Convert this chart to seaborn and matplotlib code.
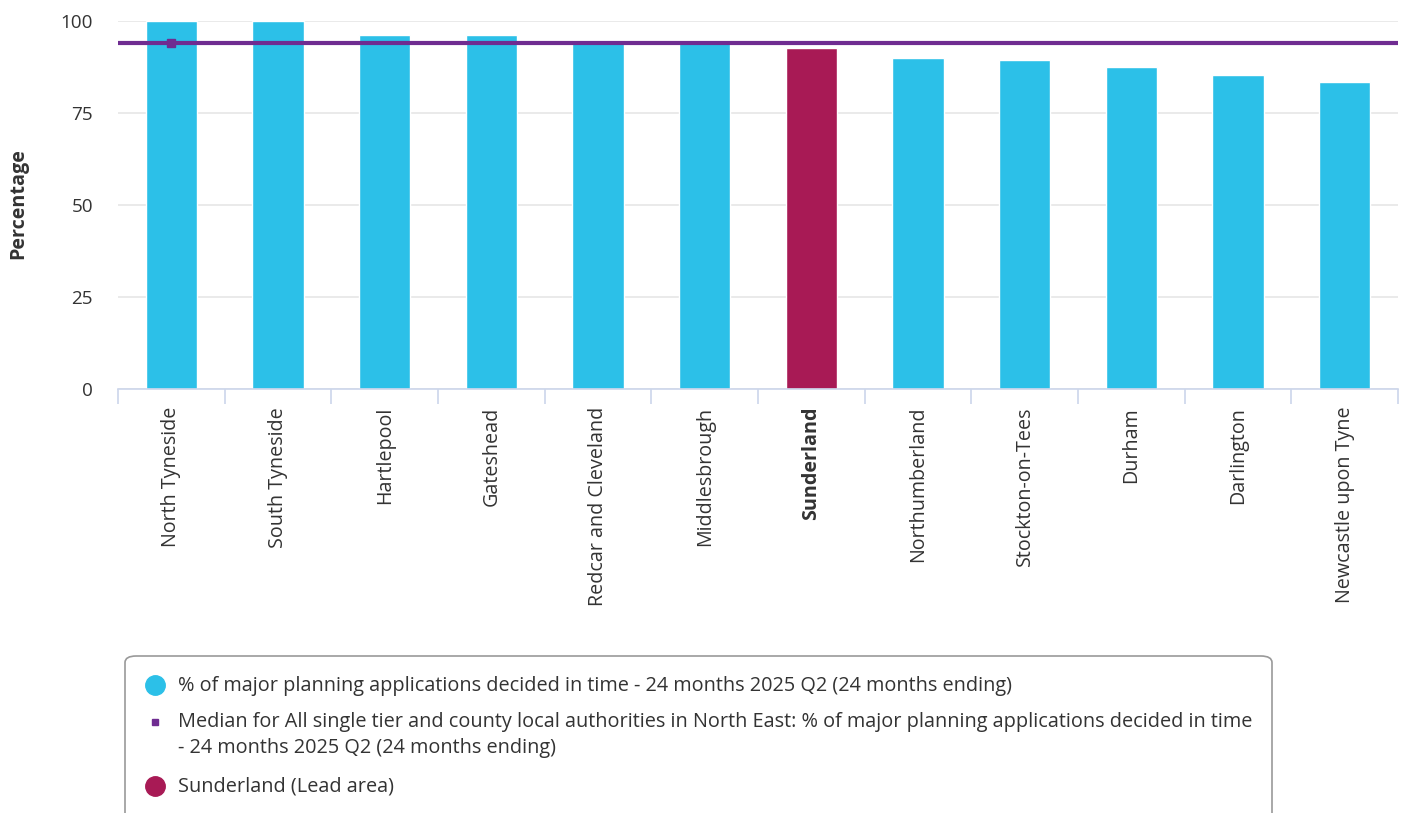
import matplotlib
matplotlib.use("Agg")
import matplotlib.pyplot as plt
import seaborn as sns
from matplotlib.patches import FancyBboxPatch
from matplotlib.lines import Line2D

# ---- data ----
areas = ["North Tyneside", "South Tyneside", "Hartlepool", "Gateshead",
         "Redcar and Cleveland", "Middlesbrough", "Sunderland", "Northumberland",
         "Stockton-on-Tees", "Durham", "Darlington", "Newcastle upon Tyne"]
values = [100.0, 100.0, 96.1, 96.1, 94.7, 94.3, 92.5, 89.8, 89.3, 87.5, 85.3, 83.3]
median_value = 94.0
lead_area = "Sunderland"
y_ticks = [0, 25, 50, 75, 100]
series_label = "% of major planning applications decided in time - 24 months 2025 Q2 (24 months ending)"
median_label = ("Median for All single tier and county local authorities in North East: % of major planning applications decided in time\n"
                "- 24 months 2025 Q2 (24 months ending)")
lead_label = "Sunderland (Lead area)"

# ---- style ----
CYAN = "#2cc0e8"
LEAD = "#a81a55"
PURPLE = "#6f2c91"
AXC = "#ccd6eb"
GRID = "#e6e6e6"
TXT = "#333333"
FS = 14.2
LFS = 14.35

sns.set_theme(style="white")
plt.rcParams["font.family"] = ["Open Sans", "DejaVu Sans"]

fig = plt.figure(figsize=(14.06, 8.13), dpi=100)
W, H = 1406, 813
ax = fig.add_axes([118 / W, 1 - 388.7 / H, (1398 - 118) / W, (388.7 - 20.7) / H])

palette = {a: (LEAD if a == lead_area else CYAN) for a in areas}
sns.barplot(x=areas, y=values, hue=areas, palette=palette, legend=False,
            width=0.48, edgecolor="white", linewidth=1, saturation=1, ax=ax, zorder=2)

ax.axhline(median_value, color=PURPLE, lw=3, zorder=3)
ax.plot([0], [median_value], marker="s", color=PURPLE, ms=6, zorder=4)

ax.set_xlim(-0.5, len(areas) - 0.5)
ax.set_ylim(0, 100)
ax.set_yticks(y_ticks)
ax.grid(axis="y", color=GRID, lw=1.2, zorder=0)
ax.set_axisbelow(True)
for s in ["top", "right", "left"]:
    ax.spines[s].set_visible(False)
ax.spines["bottom"].set_color(AXC)
ax.spines["bottom"].set_linewidth(1.2)
ax.set_xlabel("")
ax.set_ylabel("")

ax.set_xticks(range(len(areas)))
ax.set_xticklabels(areas, rotation=90, fontsize=FS, color=TXT)
ax.set_xticks([i - 0.5 for i in range(len(areas) + 1)], minor=True)
ax.tick_params(axis="x", which="major", length=0, pad=13)
ax.tick_params(axis="x", which="minor", length=11, color=AXC, width=1.2, direction="out", bottom=True)
ax.tick_params(axis="y", length=0, pad=18, labelsize=13.6, labelcolor=TXT)
for lbl in ax.get_xticklabels():
    if lbl.get_text() == lead_area:
        lbl.set_fontweight("bold")

fig.text(18 / W, 1 - 204 / H, "Percentage", rotation=90, fontsize=FS,
         fontweight="bold", color=TXT, ha="center", va="center")

# ---- legend box ----
box = FancyBboxPatch((125 / W, -0.05), (1272 - 125) / W, (1 - 656 / H) + 0.05,
                     boxstyle="round,pad=0,rounding_size=0.008", transform=fig.transFigure,
                     facecolor="white", edgecolor="#999999", lw=1.2)
fig.add_artist(box)

def fy(py):
    return 1 - py / H

fig.add_artist(Line2D([155 / W], [fy(685)], marker="o", ms=14, color=CYAN, transform=fig.transFigure))
fig.add_artist(Line2D([155 / W], [fy(722)], marker="s", ms=5, color=PURPLE, transform=fig.transFigure))
fig.add_artist(Line2D([155 / W], [fy(786)], marker="o", ms=14, color=LEAD, transform=fig.transFigure))
fig.text(178 / W, fy(686), series_label, fontsize=LFS, color=TXT, va="center", ha="left")
fig.text(178 / W, fy(734.5), median_label, fontsize=LFS, color=TXT, va="center", ha="left",
         linespacing=1.4)
fig.text(178 / W, fy(786), lead_label, fontsize=LFS, color=TXT, va="center", ha="left")

fig.savefig("out.png", dpi=100)
